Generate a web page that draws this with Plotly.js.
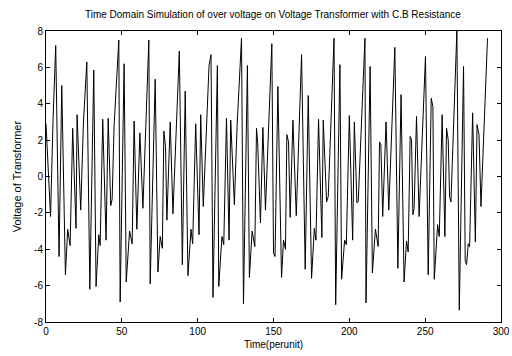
<!DOCTYPE html>
<html>
<head>
<meta charset="utf-8">
<script src="https://cdn.plot.ly/plotly-3.0.1.min.js"></script>
<style>html,body{margin:0;padding:0;background:#fff;}#chart{width:512px;height:356px;}</style>
</head>
<body>
<div id="chart"></div>
<script>
const time = [0, 1.6, 3.0, 4.6, 6.4, 8.6, 10.4, 12.8, 14.3, 15.9, 17.6, 19.8, 20.5, 22.9, 24.7, 26.9, 28.9, 31.5, 33.0, 34.8, 35.7, 37.4, 39.6, 41.0, 42.7, 43.6, 44.9, 48.0, 48.9, 51.5, 52.9, 55.1, 56.8, 58.1, 59.9, 61.9, 63.9, 67.8, 68.7, 72.0, 73.8, 75.3, 76.7, 77.7, 78.8, 79.7, 81.9, 83.7, 87.9, 89.9, 91.8, 93.6, 95.6, 96.7, 98.7, 100.9, 102.0, 103.7, 107.5, 108.8, 110.1, 113.0, 113.9, 116.0, 117.2, 119.0, 120.7, 121.8, 124.2, 126.0, 128.9, 130.2, 132.8, 134.1, 135.9, 137.7, 138.8, 139.6, 141.4, 143.0, 144.7, 148.9, 150.0, 151.0, 152.9, 155.3, 156.6, 157.9, 158.8, 159.9, 161.0, 162.8, 165.0, 168.5, 170.9, 172.9, 175.1, 176.9, 178.0, 179.7, 181.9, 182.8, 185.0, 186.1, 189.9, 191.0, 193.8, 194.9, 196.9, 198.0, 200.0, 202.2, 203.3, 205.0, 205.9, 210.3, 211.0, 213.7, 215.2, 217.2, 219.0, 219.9, 220.8, 222.0, 224.2, 226.0, 230.0, 232.0, 234.1, 236.1, 237.7, 238.8, 240.1, 241.0, 241.9, 242.7, 244.3, 246.0, 250.2, 252.0, 254.0, 255.1, 256.0, 258.2, 259.3, 261.2, 263.0, 264.1, 265.2, 266.1, 267.0, 270.9, 272.5, 275.3, 276.4, 277.3, 278.4, 279.3, 281.3, 283.1, 284.2, 285.5, 286.8, 291.1];
const voltage = [2.9, 0.4, -2.2, 3.0, 7.2, -4.4, 5.0, -5.4, -2.9, -3.8, 2.65, -2.85, 3.4, -1.85, 3.0, 6.3, -6.2, 5.85, -6.05, -3.2, -3.8, 3.15, -3.5, 3.2, -1.6, -1.25, 2.8, 7.5, -6.9, 6.2, -5.8, -3.0, -3.7, 3.05, -2.9, 2.4, -1.75, 7.5, -5.9, 5.35, -5.25, -3.3, -3.95, 2.5, 1.65, -2.4, 3.0, -2.05, 6.9, -4.85, 4.7, -5.45, -2.9, -3.7, 2.9, -3.2, 3.4, -1.65, 6.1, 6.7, -6.65, 6.1, -6.05, -3.3, -3.75, 3.2, -3.5, 3.1, -1.55, 2.8, 7.6, -7.0, 6.1, -5.55, -3.0, -3.85, 2.65, 1.8, -2.55, 2.7, -1.85, 7.3, -4.2, -4.4, 4.95, -5.55, -3.5, -4.0, 2.3, 1.9, -2.25, 3.1, -2.15, 6.7, -5.1, 4.45, -5.6, -2.85, -3.5, 3.15, -3.35, 3.1, -1.4, -1.1, 7.6, -7.05, 6.15, -5.65, -3.5, -3.75, 3.35, -3.5, 3.0, -1.45, -1.35, 7.6, -6.95, 6.05, -5.3, -2.9, -3.85, 1.9, 1.75, -2.2, 3.0, -1.85, 7.1, -5.05, 4.5, -5.8, -3.55, -4.15, 2.2, 2.0, -2.1, -1.75, 3.3, -2.2, 6.6, -5.4, 4.3, 3.85, -5.65, -2.65, -3.3, 3.4, -3.3, 2.65, 2.0, -1.1, -1.4, 8.0, -7.35, 6.05, -4.6, -4.85, -3.7, -3.85, 3.5, -3.6, 2.85, 2.3, -1.65, 7.6];
const xTicks = [0, 50, 100, 150, 200, 250, 300];
const yTicks = [-8, -6, -4, -2, 0, 2, 4, 6, 8];

const fontFam = 'Liberation Sans, Arial, sans-serif';
const axisCommon = {
  showgrid: false, zeroline: false, showline: true, linecolor: '#000', linewidth: 1,
  mirror: 'ticks', ticks: 'inside', ticklen: 4, tickcolor: '#000',
  tickfont: {family: fontFam, size: 10, color: '#000'}
};

Plotly.newPlot('chart', [{
  x: time, y: voltage, type: 'scatter', mode: 'lines',
  line: {color: '#000', width: 1}
}], {
  width: 512, height: 356,
  margin: {l: 46, r: 11, t: 31, b: 34},
  paper_bgcolor: '#fff', plot_bgcolor: '#fff',
  showlegend: false,
  title: {text: 'Time Domain Simulation of over voltage on Voltage Transformer with C.B Resistance',
    font: {family: fontFam, size: 10, color: '#000'},
    x: 0.533, xanchor: 'center', y: 0.96, yanchor: 'middle'},
  xaxis: Object.assign({}, axisCommon, {range: [0, 300], tickvals: xTicks, ticktext: xTicks.map(String),
    title: {text: 'Time(perunit)', font: {family: fontFam, size: 10, color: '#000'}, standoff: 4}}),
  yaxis: Object.assign({}, axisCommon, {range: [-8, 8], tickvals: yTicks, ticktext: yTicks.map(String),
    title: {text: 'Voltage of Transformer', font: {family: fontFam, size: 11, color: '#000'}, standoff: 10}})
}, {displayModeBar: false, staticPlot: true});
</script>
</body>
</html>
